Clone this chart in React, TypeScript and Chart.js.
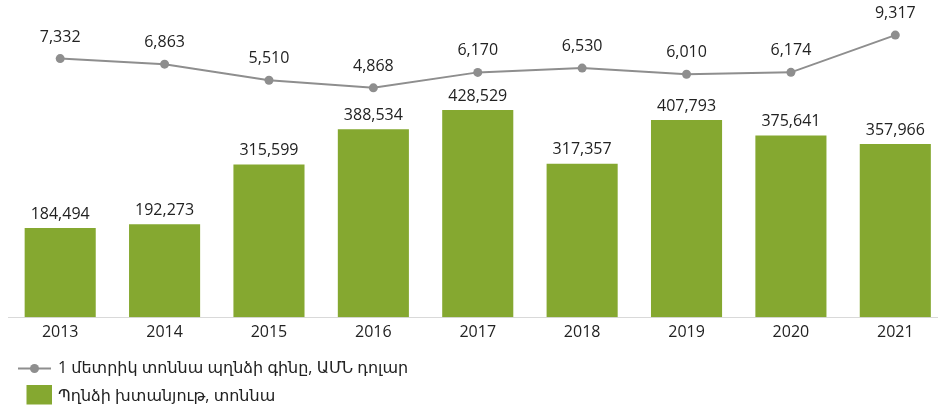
import React, { useEffect, useRef } from "react";
import { Chart, registerables } from "chart.js";

Chart.register(...registerables);

const categories = ["2013", "2014", "2015", "2016", "2017", "2018", "2019", "2020", "2021"];
const copperOutput = [184494, 192273, 315599, 388534, 428529, 317357, 407793, 375641, 357966];
const copperPrice = [7332, 6863, 5510, 4868, 6170, 6530, 6010, 6174, 9317];
const priceLabel = "1 մետրիկ տոննա պղնձի գինը, ԱՄՆ դոլար";
const outputLabel = "Պղնձի խտանյութ, տոննա";

const GREEN = "#85a830";
const GRAY = "#8e8e8e";
const TEXT = "#222222";
const FONT = "'Open Sans', 'DejaVu Sans', sans-serif";

const fmt = (v: number) => v.toLocaleString("en-US");

const labelPlugin = {
  id: "valueLabels",
  afterDatasetsDraw(chart: any) {
    const ctx = chart.ctx;
    ctx.save();
    ctx.font = `16px ${FONT}`;
    ctx.fillStyle = TEXT;
    ctx.textAlign = "center";
    ctx.textBaseline = "middle";
    chart.data.datasets.forEach((ds: any, i: number) => {
      const meta = chart.getDatasetMeta(i);
      meta.data.forEach((el: any, j: number) => {
        const v = ds.data[j];
        const off = ds.type === "line" ? 21.5 : 14;
        ctx.fillText(fmt(v), el.x, el.y - off);
      });
    });
    ctx.restore();
  },
};

const legendPlugin = {
  id: "customLegend",
  afterDraw(chart: any) {
    const ctx = chart.ctx;
    ctx.save();
    const y1 = 368.5;
    ctx.strokeStyle = GRAY;
    ctx.lineWidth = 2;
    ctx.beginPath();
    ctx.moveTo(18, y1);
    ctx.lineTo(51, y1);
    ctx.stroke();
    ctx.fillStyle = GRAY;
    ctx.beginPath();
    ctx.arc(34.5, y1, 4.5, 0, Math.PI * 2);
    ctx.fill();
    ctx.fillStyle = GREEN;
    ctx.fillRect(26.5, 385, 25.5, 19.5);
    ctx.font = `16px ${FONT}`;
    ctx.fillStyle = TEXT;
    ctx.textAlign = "left";
    ctx.textBaseline = "middle";
    ctx.fillText(priceLabel, 58, y1);
    ctx.fillText(outputLabel, 58, 396);
    ctx.restore();
  },
};

export default function App() {
  const ref = useRef<HTMLCanvasElement | null>(null);
  useEffect(() => {
    document.body.style.overflow = "hidden";
    const chart = new Chart(ref.current as HTMLCanvasElement, {
      data: {
        labels: categories,
        datasets: [
          {
            type: "line",
            label: priceLabel,
            data: copperPrice,
            yAxisID: "yPrice",
            borderColor: GRAY,
            backgroundColor: GRAY,
            borderWidth: 2,
            pointRadius: 4.5,
            pointBackgroundColor: GRAY,
            pointBorderWidth: 0,
            tension: 0,
            order: 0,
          },
          {
            type: "bar",
            label: outputLabel,
            data: copperOutput,
            yAxisID: "yOutput",
            backgroundColor: GREEN,
            barPercentage: 0.681,
            categoryPercentage: 1,
            order: 1,
          },
        ],
      } as any,
      options: {
        animation: false,
        responsive: true,
        maintainAspectRatio: false,
        layout: { padding: { left: 8, right: 0, top: 27, bottom: 61.7 } },
        plugins: { legend: { display: false }, tooltip: { enabled: false } },
        scales: {
          x: {
            grid: { display: false, drawTicks: false },
            border: { display: true, color: "#d9d9d9", width: 1 },
            ticks: { color: TEXT, font: { family: FONT, size: 16 }, padding: 6 },
            afterFit(scale: any) {
              scale.height = 30;
            },
          },
          yOutput: { display: false, min: 0, max: 600000 },
          yPrice: { display: false, min: -14500, max: 10000 },
        },
      } as any,
      plugins: [labelPlugin, legendPlugin],
    });
    return () => chart.destroy();
  }, []);
  return (
    <div style={{ position: "fixed", left: 0, top: 0, width: 952, height: 409 }}>
      <canvas ref={ref} />
    </div>
  );
}
